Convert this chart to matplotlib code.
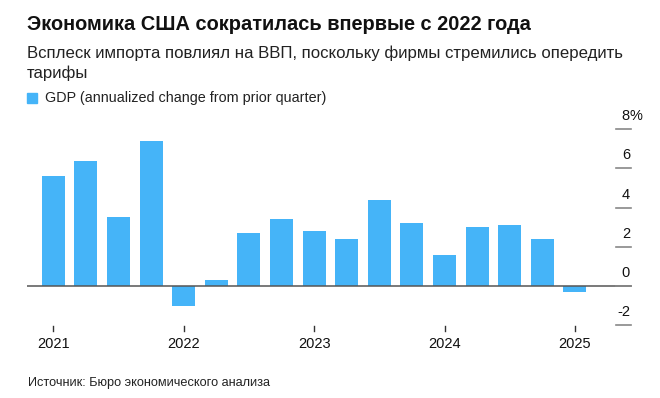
import matplotlib.pyplot as plt

quarters = ["2021Q1", "2021Q2", "2021Q3", "2021Q4",
            "2022Q1", "2022Q2", "2022Q3", "2022Q4",
            "2023Q1", "2023Q2", "2023Q3", "2023Q4",
            "2024Q1", "2024Q2", "2024Q3", "2024Q4",
            "2025Q1"]
gdp = [5.6, 6.4, 3.5, 7.4,
       -1.0, 0.3, 2.7, 3.4,
       2.8, 2.4, 4.4, 3.2,
       1.6, 3.0, 3.1, 2.4,
       -0.3]
years = ["2021", "2022", "2023", "2024", "2025"]
y_ticks = [-2, 0, 2, 4, 6, 8]

plt.rcParams["font.family"] = ["Liberation Sans", "DejaVu Sans"]

W, H = 660, 398
fig = plt.figure(figsize=(W / 100, H / 100), dpi=100)

# axes placed in pixel terms: zero line at y=286, 2% = 39.2 px, one quarter = 32.6 px
left_px, right_px, top_px, bot_px = 27, 645, 105, 352
ax = fig.add_axes([left_px / W, 1 - bot_px / H, (right_px - left_px) / W, (bot_px - top_px) / H])
ppu_x = 32.6
ppu_y = 19.6
x0_px = 53.3
zero_px = 286
ax.set_xlim(-(x0_px - left_px) / ppu_x, (right_px - x0_px) / ppu_x)
ax.set_ylim(-(bot_px - zero_px) / ppu_y, (zero_px - top_px) / ppu_y)
ax.axis("off")

def px2x(p):
    return (p - x0_px) / ppu_x

def px2y(p):
    return (zero_px - p) / ppu_y

blue = "#45B4F8"
idx = list(range(len(quarters)))
ax.bar(idx, gdp, width=0.7, color=blue, zorder=2)

# zero line
ax.plot([px2x(27), px2x(631)], [0, 0], color="#555555", lw=1.1, zorder=3)

# right axis dashes and labels
for v in y_ticks:
    ax.plot([px2x(616), px2x(631)], [v, v], color="#888888", lw=1.2, zorder=3)
    ax.text(px2x(630), v + 13 / ppu_y, str(v), ha="right", va="center",
            fontsize=10.5, color="#111111")
    if v == 8:
        ax.text(px2x(630), v + 13 / ppu_y, "%", ha="left", va="center",
                fontsize=10.5, color="#111111")

# year ticks and labels (Q1 of each year)
for i, yr in enumerate(years):
    xi = i * 4
    ax.plot([xi, xi], [px2y(326), px2y(331)], color="#333333", lw=1.0)
    ax.text(xi, px2y(344), yr, ha="center", va="center", fontsize=10.5, color="#111111")

# texts
fig.text(27 / W, 1 - 25 / H, "Экономика США сократилась впервые с 2022 года",
         fontsize=14.4, fontweight="bold", ha="left", va="center", color="#111111")
fig.text(27 / W, 1 - 53 / H, "Всплеск импорта повлиял на ВВП, поскольку фирмы стремились опередить",
         fontsize=12.1, ha="left", va="center", color="#222222")
fig.text(27 / W, 1 - 73 / H, "тарифы",
         fontsize=12.1, ha="left", va="center", color="#222222")

fig.patches.append(plt.Rectangle((27 / W, 1 - 103 / H), 10 / W, 10 / H,
                                 transform=fig.transFigure, color=blue, figure=fig))
fig.text(45 / W, 1 - 98 / H, "GDP (annualized change from prior quarter)",
         fontsize=10.4, ha="left", va="center", color="#222222")

fig.text(28 / W, 1 - 383 / H, "Источник: Бюро экономического анализа",
         fontsize=9.2, ha="left", va="center", color="#222222")

fig.savefig("out.png", dpi=100, facecolor="white")
